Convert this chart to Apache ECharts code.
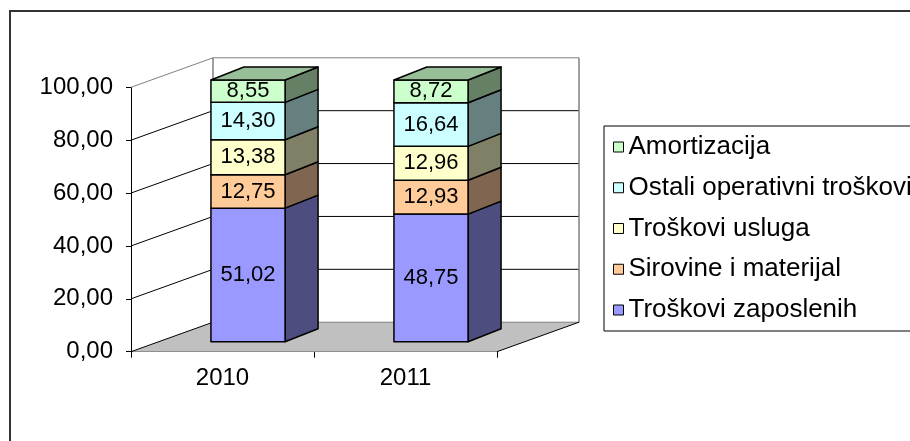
<!DOCTYPE html>
<html>
<head>
<meta charset="utf-8">
<script src="https://cdn.jsdelivr.net/npm/echarts@6/dist/echarts.min.js"></script>
<style>
  html, body { margin: 0; padding: 0; background: #fff; }
  #main { width: 910px; height: 441px; }
</style>
</head>
<body>
<div id="main"></div>
<script>
// podaci
var categories = ['2010', '2011'];
var yTicks = [0, 20, 40, 60, 80, 100];
var zaposlenih = [51.02, 48.75];
var sirovine = [12.75, 12.93];
var usluga = [13.38, 12.96];
var ostali = [14.30, 16.64];
var amortizacija = [8.55, 8.72];

var seriesNames = ['Troškovi zaposlenih', 'Sirovine i materijal', 'Troškovi usluga', 'Ostali operativni troškovi', 'Amortizacija'];
var seriesValues = [zaposlenih, sirovine, usluga, ostali, amortizacija];
var frontColors = ['#9999FF', '#FFCC99', '#FFFFCC', '#CCFFFF', '#CCFFCC'];
var sideColors = ['#4D4D80', '#806650', '#808066', '#668080', '#668066'];
var topColors = ['#7373BF', '#BF9973', '#BFBF99', '#99BFBF', '#99BF99'];

var FONT = '"Liberation Sans", Arial, sans-serif';

// 3D pomaci (zid i stubovi)
var wallDx = 82, wallDy = -29.5;
var barDx = 25.5, barDy = -10, barScale = 0.99;
var depthDx = 33, depthDy = -13;

function fmt(v) {
    return v.toFixed(2).replace('.', ',');
}

// zidovi i pod
function renderWalls(params, api) {
    var band = api.size([1, 0])[0];
    var p0 = api.coord([0, 0]);
    var p1 = api.coord([categories.length - 1, 0]);
    var L = p0[0] - band / 2, R = p1[0] + band / 2, y0 = p0[1];
    var top = api.coord([0, yTicks[yTicks.length - 1]])[1];
    var children = [];
    children.push({
        type: 'polygon',
        shape: {points: [[L, y0], [R, y0], [R + wallDx, y0 + wallDy], [L + wallDx, y0 + wallDy]]},
        style: {fill: '#C0C0C0', stroke: null}
    });
    for (var i = 0; i < yTicks.length; i++) {
        var y = api.coord([0, yTicks[i]])[1];
        var edge = (yTicks[i] === 0 || i === yTicks.length - 1);
        children.push({
            type: 'line',
            shape: {x1: L + wallDx, y1: y + wallDy, x2: R + wallDx, y2: y + wallDy},
            style: {stroke: edge ? '#808080' : '#000', lineWidth: 1}
        });
        children.push({
            type: 'line',
            shape: {x1: L, y1: y, x2: L + wallDx, y2: y + wallDy},
            style: {stroke: i === yTicks.length - 1 ? '#808080' : '#000', lineWidth: 1}
        });
    }
    children.push({
        type: 'line',
        shape: {x1: L + wallDx, y1: y0 + wallDy, x2: L + wallDx, y2: top + wallDy},
        style: {stroke: '#808080', lineWidth: 1.5}
    });
    children.push({
        type: 'line',
        shape: {x1: R + wallDx, y1: y0 + wallDy, x2: R + wallDx, y2: top + wallDy},
        style: {stroke: '#808080', lineWidth: 1.5}
    });
    children.push({
        type: 'line',
        shape: {x1: R, y1: y0, x2: R + wallDx, y2: y0 + wallDy},
        style: {stroke: '#000', lineWidth: 1}
    });
    return {type: 'group', children: children};
}

// jedan segment stuba
function makeRenderBar(si) {
    return function (params, api) {
        var cat = api.value(0), base = api.value(1), val = api.value(2), isTop = api.value(3);
        var band = api.size([1, 0])[0];
        var w = band * 0.405;
        var zero = api.coord([cat, 0]);
        var pb = api.coord([cat, base]);
        var pt = api.coord([cat, base + val]);
        var yb = zero[1] + barDy - (zero[1] - pb[1]) * barScale;
        var yt = zero[1] + barDy - (zero[1] - pt[1]) * barScale;
        var x0 = zero[0] - w / 2 + barDx, x1 = x0 + w;
        var line = {stroke: '#000', lineWidth: 1.5, lineJoin: 'round'};
        var children = [
            {
                type: 'polygon',
                shape: {points: [[x1, yb], [x1 + depthDx, yb + depthDy], [x1 + depthDx, yt + depthDy], [x1, yt]]},
                style: Object.assign({fill: sideColors[si]}, line)
            },
            {
                type: 'rect',
                shape: {x: x0, y: yt, width: w, height: yb - yt},
                style: Object.assign({fill: frontColors[si]}, line)
            }
        ];
        if (isTop) {
            children.push({
                type: 'polygon',
                shape: {points: [[x0, yt], [x1, yt], [x1 + depthDx, yt + depthDy], [x0 + depthDx, yt + depthDy]]},
                style: Object.assign({fill: topColors[si]}, line)
            });
        }
        children.push({
            type: 'text',
            style: {
                text: fmt(val), x: (x0 + x1) / 2, y: (yb + yt) / 2,
                align: 'center', verticalAlign: 'middle',
                fill: '#000', font: '22px ' + FONT
            }
        });
        return {type: 'group', children: children};
    };
}

var series = [{
    type: 'custom',
    name: 'walls',
    silent: true,
    renderItem: renderWalls,
    data: [[0, 0]],
    z: 1
}];

for (var s = 0; s < seriesNames.length; s++) {
    var rows = [];
    for (var c = 0; c < categories.length; c++) {
        var base = 0;
        for (var k = 0; k < s; k++) base += seriesValues[k][c];
        rows.push([c, base, seriesValues[s][c], s === seriesNames.length - 1 ? 1 : 0]);
    }
    series.push({
        type: 'custom',
        name: seriesNames[s],
        renderItem: makeRenderBar(s),
        itemStyle: {color: frontColors[s]},
        encode: {x: 0, y: 1},
        data: rows,
        z: 2 + s
    });
}

var chart = echarts.init(document.getElementById('main'), null, {renderer: 'canvas'});
var option = {
    animation: false,
    backgroundColor: '#fff',
    grid: {left: 131, right: 413, top: 87.3, bottom: 89.3, containLabel: false},
    graphic: [{
        type: 'rect',
        shape: {x: 10, y: 11, width: 1000, height: 1000},
        style: {fill: null, stroke: '#333', lineWidth: 2},
        silent: true
    }],
    legend: {
        orient: 'vertical',
        left: 604,
        top: 126,
        padding: [8, 12, 8, 9],
        itemGap: 14.75,
        itemWidth: 10,
        itemHeight: 10,
        icon: 'rect',
        borderColor: '#000',
        borderWidth: 1,
        itemStyle: {borderColor: '#000', borderWidth: 1},
        textStyle: {fontFamily: FONT, fontSize: 26, color: '#000', lineHeight: 26},
        data: seriesNames.slice().reverse()
    },
    xAxis: {
        type: 'category',
        data: categories,
        axisLine: {lineStyle: {color: '#000', width: 1}},
        axisTick: {show: true, length: 6, lineStyle: {color: '#000'}},
        axisLabel: {fontFamily: FONT, fontSize: 24, color: '#000', margin: 15},
        splitLine: {show: false}
    },
    yAxis: {
        type: 'value',
        min: 0,
        max: 100,
        interval: 20,
        axisLine: {show: true, lineStyle: {color: '#000', width: 1}},
        axisTick: {show: true, length: 5, lineStyle: {color: '#000'}},
        axisLabel: {fontFamily: FONT, fontSize: 24, color: '#000', margin: 18, formatter: fmt},
        splitLine: {show: false}
    },
    series: series
};
chart.setOption(option);
</script>
</body>
</html>
